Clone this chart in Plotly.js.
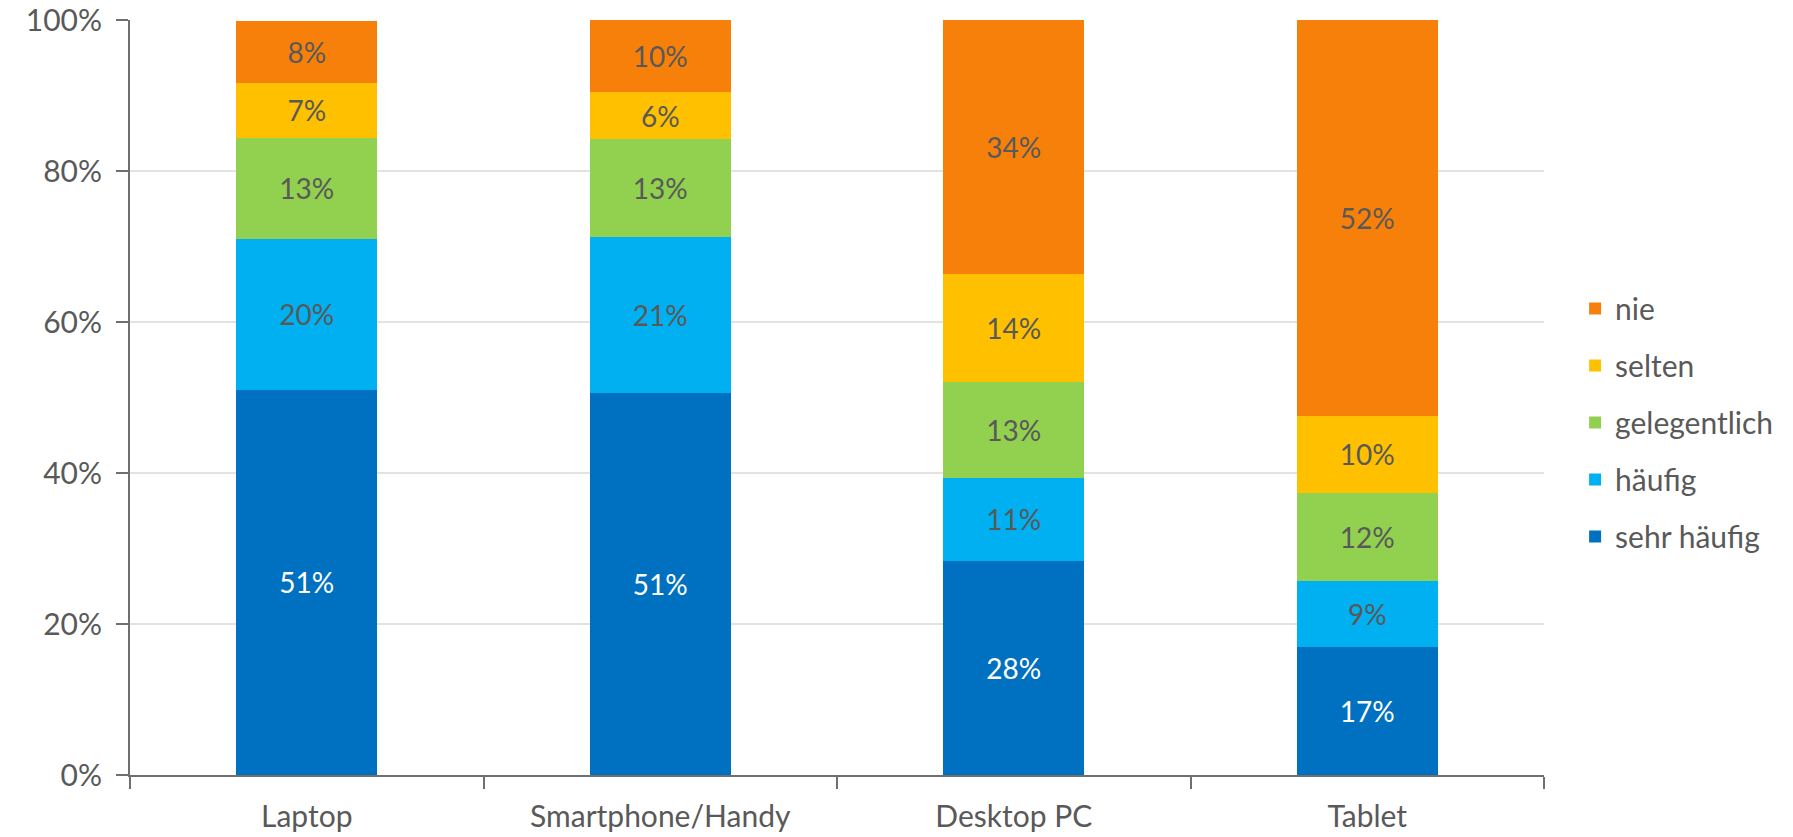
<!DOCTYPE html>
<html>
<head>
<meta charset="utf-8">
<script src="https://cdn.plot.ly/plotly-3.0.1.min.js"></script>
<style>
  html, body { margin: 0; padding: 0; background: #fff; }
  #chart { width: 1793px; height: 837px; }
</style>
</head>
<body>
<div id="chart"></div>
<script>
// devices on the x axis
var devices = ["Laptop", "Smartphone/Handy", "Desktop PC", "Tablet"];

// share of answers per device, in percent
var sehrHaeufig  = [51.0, 50.6, 28.3, 17.0];
var haeufig      = [20.0, 20.6, 11.1, 8.7];
var gelegentlich = [13.4, 13.0, 12.6, 11.7];
var selten       = [7.3, 6.2, 14.3, 10.2];
var nie          = [8.2, 9.6, 33.7, 52.4];

var yTicks = [0, 20, 40, 60, 80, 100];
var yTickText = ["0%", "20%", "40%", "60%", "80%", "100%"];

var grey = "#595959";
var fontName = "Lato, 'Open Sans', sans-serif";

// rank: order in the legend, top to bottom
function series(name, vals, color, txtColor, rank) {
    return {
        type: "bar",
        name: name,
        x: devices,
        y: vals,
        legendgroup: name,
        legendrank: rank,
        marker: { color: color, line: { width: 0 } },
        texttemplate: "%{y:.0f}%",
        textposition: "inside",
        insidetextanchor: "middle",
        textangle: 0,
        constraintext: "none",
        textfont: { family: fontName, size: 28, color: txtColor },
        hoverinfo: "skip"
    };
}

var data = [
    series("sehr häufig", sehrHaeufig, "#0070C0", "#ffffff", 5),
    series("häufig", haeufig, "#00B0F0", grey, 4),
    series("gelegentlich", gelegentlich, "#92D050", grey, 3),
    series("selten", selten, "#FFC000", grey, 2),
    series("nie", nie, "#F7800A", grey, 1)
];

var layout = {
    width: 1793,
    height: 837,
    barmode: "stack",
    bargap: 0.6,
    margin: { l: 130, r: 249, t: 20, b: 62 },
    paper_bgcolor: "#ffffff",
    plot_bgcolor: "#ffffff",
    font: { family: fontName, size: 30, color: grey },
    showlegend: true,
    legend: {
        x: 1.022, xanchor: "left",
        y: 0.467, yanchor: "middle",
        traceorder: "grouped",
        tracegroupgap: 15,
        font: { family: fontName, size: 30, color: grey },
        bgcolor: "rgba(0,0,0,0)"
    },
    xaxis: {
        type: "category",
        showline: true,
        linecolor: "#6f6f6f",
        linewidth: 2,
        ticks: "outside",
        tickson: "boundaries",
        ticklen: 12,
        tickwidth: 2,
        tickcolor: "#6f6f6f",
        ticklabelstandoff: 14,
        showgrid: false,
        zeroline: false,
        tickfont: { family: fontName, size: 30, color: grey }
    },
    yaxis: {
        range: [0, 100],
        tickmode: "array",
        tickvals: yTicks,
        ticktext: yTickText,
        showline: true,
        linecolor: "#6f6f6f",
        linewidth: 2,
        ticks: "outside",
        ticklen: 12,
        tickwidth: 2,
        tickcolor: "#6f6f6f",
        ticklabelstandoff: 8,
        showgrid: true,
        gridcolor: "#e3e3e3",
        gridwidth: 2,
        zeroline: false,
        tickfont: { family: fontName, size: 30, color: grey }
    }
};

Plotly.newPlot("chart", data, layout, { displayModeBar: false, staticPlot: true });
</script>
</body>
</html>
